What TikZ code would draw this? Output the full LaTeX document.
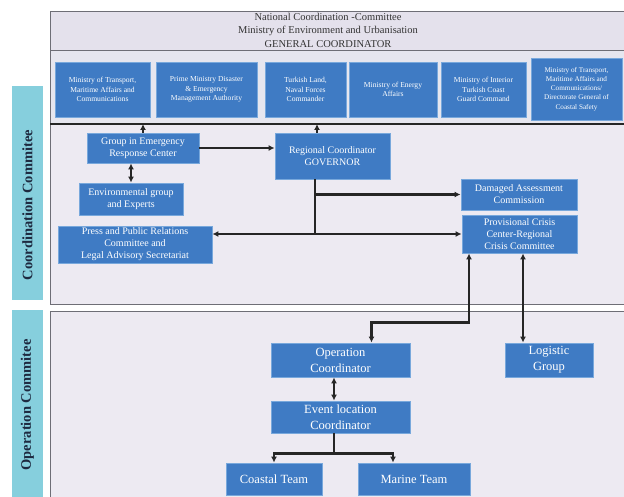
\documentclass[tikz,border=0pt]{standalone}
\usepackage{fontspec}
\setmainfont{Liberation Serif}
\usetikzlibrary{arrows.meta,calc}
\definecolor{boxblue}{HTML}{3F7BC4}
\definecolor{boxedge}{HTML}{78A8DC}
\definecolor{panelbg}{HTML}{EDEAF2}
\definecolor{rowbg}{HTML}{E6E6EF}
\definecolor{titlebg}{HTML}{E4E1EC}
\definecolor{stripc}{HTML}{86CFDD}
\definecolor{framegray}{HTML}{6E6E76}
\definecolor{linec}{HTML}{262626}
\definecolor{labelc}{HTML}{1E2A40}
\begin{document}
\begin{tikzpicture}[x=1pt,y=-1pt,
  box/.style={draw=boxedge,line width=0.9pt,fill=boxblue,text=white,align=center,inner sep=1pt},
  tinyt/.style={font=\fontsize{7.6}{9.3}\selectfont},
  midt/.style={font=\fontsize{10}{12}\selectfont},
  bigt/.style={font=\fontsize{12.5}{16}\selectfont},
  panel/.style={draw=framegray,line width=1pt,fill=panelbg},
  conn/.style={draw=linec,line width=2.2pt},
  tipe/.style={-{Latex[length=6pt,width=6pt]}},
  tipb/.style={{Latex[length=6pt,width=6pt]}-{Latex[length=6pt,width=6pt]}},
  striplabel/.style={rotate=90,text=labelc,font=\bfseries\fontsize{14.5}{16}\selectfont}
]
\useasboundingbox (0,0) rectangle (624,497);

% side strips
\fill[stripc] (12,86) rectangle (43,300);
\fill[stripc] (12,310) rectangle (43,497);
\node[striplabel] (lc) at (27.5,205) {Coordination Commitee};
\node[striplabel] (lo) at (27.5,405) {Operation Commitee};

% panels
\node[panel,fill=titlebg,minimum width=574pt,minimum height=39pt,anchor=north west,inner sep=0pt] (title) at (50,11) {};
\node[align=center,font=\fontsize{10.5}{13.5}\selectfont,text=black!80] (ttext) at (328,30)
  {National Coordination -Committee\\Ministry of Environment and Urbanisation\\GENERAL COORDINATOR};
\node[panel,fill=rowbg,minimum width=574pt,minimum height=73pt,anchor=north west,inner sep=0pt] (row) at (50,50) {};
\node[panel,minimum width=574pt,minimum height=181pt,anchor=north west,inner sep=0pt] (coord) at (50,123) {};
\node[panel,minimum width=574pt,minimum height=187pt,anchor=north west,inner sep=0pt] (oper) at (50,311) {};
\draw[linec,line width=1.6pt] (row.south west) -- (row.south east);

% top row boxes
\node[box,tinyt,minimum width=95pt,minimum height=55pt] (m1) at (102.5,89.5)
  {Ministry of Transport,\\Maritime Affairs and\\Communications};
\node[box,tinyt,minimum width=101pt,minimum height=55pt] (m2) at (206.5,89.5)
  {Prime Ministry Disaster\\\& Emergency\\Management Authority};
\node[box,tinyt,minimum width=81pt,minimum height=55pt] (m3) at (305.5,89.5)
  {Turkish Land,\\Naval Forces\\Commander};
\node[box,tinyt,minimum width=88pt,minimum height=55pt] (m4) at (393,89.5)
  {Ministry of Energy\\Affairs};
\node[box,tinyt,minimum width=85pt,minimum height=55pt] (m5) at (483.5,89.5)
  {Ministry of Interior\\Turkish Coast\\Guard Command};
\node[box,tinyt,font=\fontsize{7.2}{9.2}\selectfont,minimum width=91pt,minimum height=62pt] (m6) at (576.5,89)
  {Ministry of Transport,\\Maritime Affairs and\\Communications/\\Directorate General of\\Coastal Safety};

% coordination boxes
\node[box,midt,minimum width=112pt,minimum height=30pt] (grp) at (143,148)
  {Group in Emergency\\Response Center};
\node[box,midt,minimum width=104pt,minimum height=32pt] (env) at (131,199)
  {Environmental group\\and Experts};
\node[box,midt,minimum width=154pt,minimum height=37pt] (press) at (135,244.5)
  {Press and Public Relations\\Committee and\\Legal Advisory Secretariat};
\node[box,midt,minimum width=115pt,minimum height=46pt] (reg) at (332.5,156)
  {Regional Coordinator\\GOVERNOR};
\node[box,midt,minimum width=116pt,minimum height=31pt] (dmg) at (519,194.5)
  {Damaged Assessment\\Commission};
\node[box,midt,minimum width=115pt,minimum height=38pt] (prov) at (519.5,234)
  {Provisional Crisis\\Center-Regional\\Crisis Committee};

% operation boxes
\node[box,bigt,minimum width=139pt,minimum height=34pt] (opc) at (340.5,360)
  {Operation\\Coordinator};
\node[box,bigt,minimum width=88pt,minimum height=34pt] (logi) at (549,360)
  {Logistic\\Group};
\node[box,bigt,minimum width=139pt,minimum height=32pt] (evt) at (340.5,417)
  {Event location\\Coordinator};
\node[box,bigt,minimum width=96pt,minimum height=32pt] (coast) at (274,479)
  {Coastal Team};
\node[box,bigt,minimum width=112pt,minimum height=32pt] (marine) at (414,479)
  {Marine Team};

% connectors: coordination
\draw[conn,tipe] (grp.north) -- (grp.north |- row.south);
\draw[conn,tipe] ([xshift=-15.5pt]reg.north) -- ([xshift=-15.5pt]reg.north |- row.south);
\draw[conn,tipb] (env.north) -- (env.north |- grp.south);
\draw[conn,tipe] (grp.east) -- (grp.east -| reg.west);
\coordinate (j1) at ([xshift=-17.5pt]reg.south |- prov.west);
\draw[conn] ([xshift=-17.5pt]reg.south) -- (j1);
\draw[conn,tipe] (j1 |- dmg.west) -- (dmg.west);
\draw[conn,tipb] (press.east |- prov.west) -- (prov.west);

% connectors: coordination to operation
\coordinate (k1) at ([xshift=-50.5pt]prov.south);
\coordinate (k2) at ([xshift=31pt,yshift=20pt]opc.north);
\draw[conn,tipb] (k1) |- (k2) -- ([xshift=31pt]opc.north);
\draw[conn,tipb] ([xshift=3.5pt]prov.south) -- ([xshift=3.5pt]prov.south |- logi.north);

% connectors: operation
\draw[conn,tipb] ([xshift=-6.5pt]opc.south) -- ([xshift=-6.5pt]evt.north);
\coordinate (bj) at ([xshift=-6.5pt,yshift=-20pt]evt.south);
\draw[conn] ([xshift=-6.5pt]evt.south) -- (bj);
\draw[conn,tipe] (bj) -| (coast.north);
\draw[conn,tipe] (bj) -| ([xshift=-21pt]marine.north);
\end{tikzpicture}
\end{document}
